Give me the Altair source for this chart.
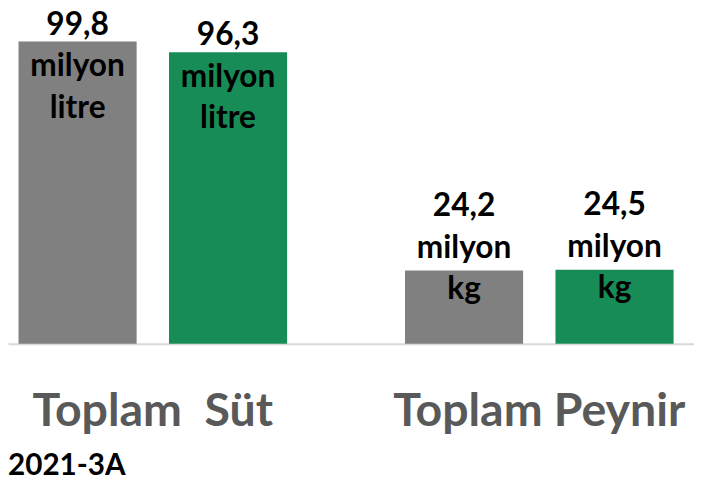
import altair as alt
import pandas as pd

products = ["Toplam\u00a0 Süt", "Toplam Peynir"]
years = ["2021-3A", "2022-3A"]
values = [99.8, 96.3, 24.2, 24.5]
units = [["milyon", "litre"], ["milyon", "litre"], ["milyon", "kg"], ["milyon", "kg"]]
colors = ["#808080", "#188C56"]

rows = []
i = 0
for p in products:
    for y in years:
        lbl = [f"{values[i]:.1f}".replace(".", ",")] + units[i]
        rows.append({"product": p, "year": y, "value": values[i], "label": lbl})
        i += 1
df = pd.DataFrame(rows)

FONT = "Lato"

x_enc = alt.X("product:N", sort=products, title=None,
              scale=alt.Scale(paddingInner=0.305, paddingOuter=0.04, align=0.34),
              axis=alt.Axis(labelAngle=0, labelFont=FONT, labelFontSize=47, labelFontWeight="bold",
                            labelColor="#595959", labelPadding=46, ticks=False,
                            domainColor="#d9d9d9", domainWidth=2, labelLimit=400))
xo_enc = alt.XOffset("year:N", sort=years, scale=alt.Scale(paddingInner=0.215, paddingOuter=0))
y_enc = alt.Y("value:Q", scale=alt.Scale(domain=[0, 110], nice=False), axis=None)

base = alt.Chart(df)

bars = base.mark_bar().encode(
    x=x_enc, xOffset=xo_enc, y=y_enc,
    color=alt.Color("year:N", sort=years, scale=alt.Scale(domain=years, range=colors), legend=None),
)

txt_sut = base.transform_filter(alt.datum.product == products[0]).mark_text(
    font=FONT, fontSize=32, fontWeight="bold", color="black", baseline="alphabetic",
    lineHeight=42, dy=-7
).encode(x=x_enc, xOffset=xo_enc, y=y_enc, text="label")

txt_pey = base.transform_filter(alt.datum.product == products[1]).mark_text(
    font=FONT, fontSize=32, fontWeight="bold", color="black", baseline="alphabetic",
    lineHeight=42, dy=-55
).encode(x=x_enc, xOffset=xo_enc, y=y_enc, text="label")

legend_txt = alt.Chart(pd.DataFrame({"t": [years[0]]})).mark_text(
    font=FONT, fontSize=30, fontWeight="bold", color="black", align="left", baseline="alphabetic"
).encode(x=alt.value(0), y=alt.value(470), text="t:N")

chart = alt.layer(bars, txt_sut, txt_pey, legend_txt).properties(
    width=694, height=337,
    autosize=alt.AutoSizeParams(type="none"),
    padding={"left": 0, "top": 0, "right": 0, "bottom": 135},
).configure_view(stroke=None)

chart.save("out.html", embed_options={"renderer": "svg", "actions": False})
